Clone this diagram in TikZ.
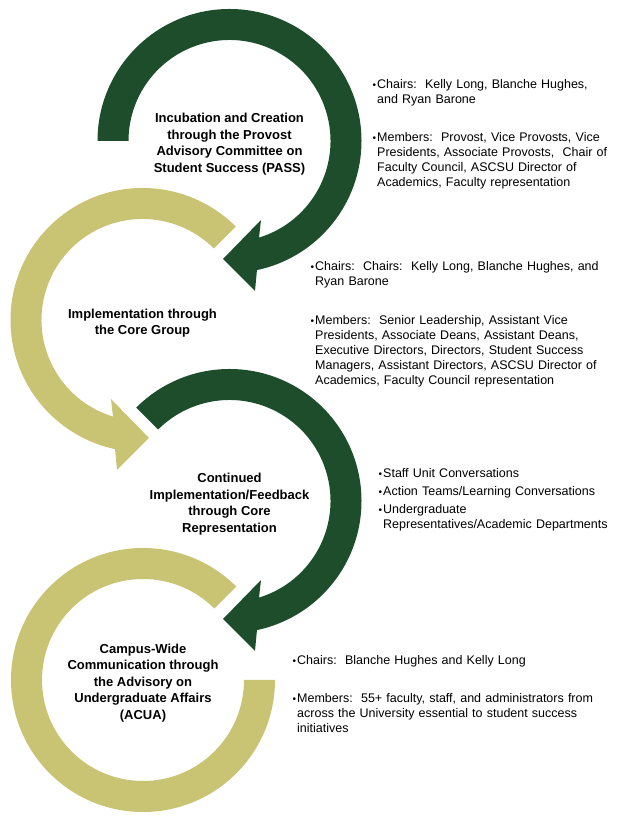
\documentclass[tikz,border=0pt]{standalone}
\usepackage{fontspec}
\setmainfont{Liberation Sans}
\definecolor{csugreen}{RGB}{30,77,43}
\definecolor{csugold}{RGB}{200,196,115}
\tikzset{ring dark/.style={fill=csugreen}}
\tikzset{ring light/.style={fill=csugold}}
% one turning arrow round its centre, #1 = angle where the tail is cut
\newcommand{\turnarrow}[1]{(#1:132) arc[start angle=#1, end angle=-78, radius=132]
  -- (25.5,-150) -- (-6.5,-118) -- (31.5,-79)
  -- (-73:101) arc[start angle=-73, end angle=#1, radius=101] -- cycle}
\newcommand{\bul}{\leavevmode\llap{\raisebox{0.3pt}{\fontsize{10}{10}\selectfont\textbullet}\hspace{1.2pt}}}

\begin{document}
\begin{tikzpicture}[x=1pt, y=1pt,
		stage/.style={font=\fontsize{13}{16.5}\selectfont\bfseries, align=center, yshift=-3},
		info/.style={font=\fontsize{12.5}{15}\selectfont, text width=310pt, align=left,
			anchor=north west, inner sep=0pt, execute at begin node=\setlength{\parindent}{0pt}}
		]
		\useasboundingbox (0,0) rectangle (618,826);
		% ring centres
		\coordinate (c1) at (229.5,685);
		\coordinate (c2) at (142.5,506);
		\coordinate (c3) at (229.5,325);
		\coordinate (c4) at (143,146);
		% rings
		\fill[ring dark, shift={(c1)}] \turnarrow{180};
		\fill[ring light, shift={(c2)}, xscale=-1] \turnarrow{135};
		\fill[ring dark, shift={(c3)}] \turnarrow{135};
		\fill[ring light, shift={(c4)}] (45:132) arc[start angle=45, end angle=360, radius=132]
			-- (0:101) arc[start angle=360, end angle=45, radius=101] -- cycle;
		% stage names inside the rings
		\node[stage] (pass) at (c1) {Incubation and Creation\\through the Provost\\Advisory Committee on\\Student Success (PASS)};
		\node[stage] (core) at (c2) {Implementation through\\the Core Group};
		\node[stage] (feedback) at (c3) {Continued\\Implementation/Feedback\\through Core\\Representation};
		\node[stage] (acua) at (c4) {Campus-Wide\\Communication through\\the Advisory on\\Undergraduate Affairs\\(ACUA)};
		% who takes part
		\node[info] (passinfo) at (377,746.8) {\bul Chairs:\ \ Kelly Long, Blanche Hughes,\\and Ryan Barone\\[23pt]
			\bul Members:\ \ Provost, Vice Provosts, Vice\\Presidents, Associate Provosts,\ \ Chair of\\Faculty Council, ASCSU Director of\\Academics, Faculty representation};
		\node[info] (coreinfo) at (315,564.8) {\bul Chairs:\ \ Chairs:\ \ Kelly Long, Blanche Hughes, and\\Ryan Barone\\[24pt]
			\bul Members:\ \ Senior Leadership, Assistant Vice\\Presidents, Associate Deans, Assistant Deans,\\Executive Directors, Directors, Student Success\\Managers, Assistant Directors, ASCSU Director of\\Academics, Faculty Council representation};
		\node[info] (feedbackinfo) at (383,357.8) {\bul Staff Unit Conversations\\[3pt]
			\bul Action Teams/Learning Conversations\\[3pt]
			\bul Undergraduate\\Representatives/Academic Departments};
		\node[info] (acuainfo) at (297,170.8) {\bul Chairs:\ \ Blanche Hughes and Kelly Long\\[23pt]
			\bul Members:\ \ 55+ faculty, staff, and administrators from\\across the University essential to student success\\initiatives};
	\end{tikzpicture}
\end{document}
